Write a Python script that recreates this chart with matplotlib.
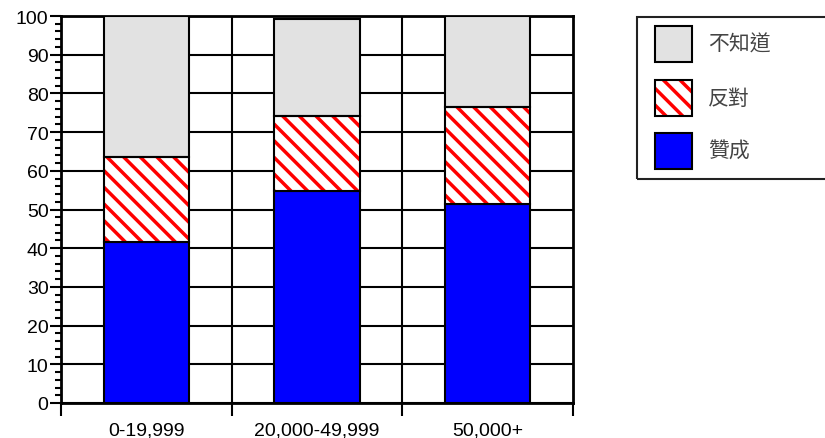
import matplotlib.pyplot as plt
from matplotlib.patches import Rectangle
from matplotlib.ticker import MultipleLocator, FixedLocator

categories = ["0-19,999", "20,000-49,999", "50,000+"]
favor = [41.5, 54.7, 51.4]          # 贊成
oppose = [22.0, 19.4, 25.1]         # 反對
unknown = [36.5, 25.1, 23.5]        # 不知道
series_names = ["不知道", "反對", "贊成"]

plt.rcParams["font.family"] = ["Liberation Sans", "DejaVu Sans"]
plt.rcParams["hatch.linewidth"] = 2.5

fig = plt.figure(figsize=(8.25, 4.39), dpi=100)
ax = fig.add_axes([61 / 825, 1 - 404 / 439, 512 / 825, 387 / 439])

x = list(range(len(categories)))
width = 0.5
gray_bottom = [f + o for f, o in zip(favor, oppose)]
gray = "#e2e2e2"

ax.bar(x, favor, width, color="#0000ff", edgecolor="black", linewidth=1.5, zorder=3)
ax.bar(x, oppose, width, bottom=favor, color="white", edgecolor="#ff0000",
       hatch="\\\\", linewidth=0, zorder=3)
ax.bar(x, oppose, width, bottom=favor, fill=False, edgecolor="black", linewidth=1.5, zorder=4)
ax.bar(x, unknown, width, bottom=gray_bottom, color=gray, edgecolor="black",
       linewidth=1.5, zorder=3)

ax.set_xlim(-0.5, len(categories) - 0.5)
ax.set_ylim(0, 100)

ax.yaxis.set_major_locator(MultipleLocator(10))
ax.yaxis.set_minor_locator(MultipleLocator(2))
ax.tick_params(axis="y", which="major", length=8, width=1.5, labelsize=14, pad=1)
ax.tick_params(axis="y", which="minor", length=4, width=1.5)

ax.set_xticks(x)
ax.set_xticklabels(categories)
ax.xaxis.set_minor_locator(FixedLocator([i - 0.5 for i in range(len(categories) + 1)]))
ax.tick_params(axis="x", which="major", length=0, labelsize=14, pad=13)
ax.tick_params(axis="x", which="minor", length=9, width=1.5)

ax.grid(axis="y", which="major", color="black", linewidth=1.5, zorder=1)
for b in [i + 0.5 for i in range(len(categories) - 1)]:
    ax.axvline(b, color="black", linewidth=1.5, zorder=1)
for s in ax.spines.values():
    s.set_linewidth(2)

# legend box (extends past the right edge as in the original)
W, H = 825, 439
fig.patches.append(Rectangle((637 / W, 1 - 180 / H), 200 / W, 162 / H,
                             transform=fig.transFigure, fill=False,
                             edgecolor="#222222", linewidth=1.5, clip_on=False))
swatches = [dict(facecolor=gray),
            dict(facecolor="white", hatch="\\\\"),
            dict(facecolor="#0000ff")]
tops = [27, 81, 134]
for name, sw, top in zip(series_names, swatches, tops):
    if "hatch" in sw:
        fig.patches.append(Rectangle((655 / W, 1 - (top + 36) / H), 37 / W, 36 / H,
                                     transform=fig.transFigure, facecolor="white",
                                     edgecolor="#ff0000", hatch="\\\\", linewidth=0))
        fig.patches.append(Rectangle((655 / W, 1 - (top + 36) / H), 37 / W, 36 / H,
                                     transform=fig.transFigure, fill=False,
                                     edgecolor="black", linewidth=1.5))
    else:
        fig.patches.append(Rectangle((655 / W, 1 - (top + 36) / H), 37 / W, 36 / H,
                                     transform=fig.transFigure, edgecolor="black",
                                     linewidth=1.5, **sw))
    fig.text(708 / W, 1 - (top + 18) / H, name, va="center", ha="left",
             fontsize=15, color="#444444", family=["Noto Sans CJK TC", "DejaVu Sans"])

fig.savefig("out.png", dpi=100)
plt.close(fig)
